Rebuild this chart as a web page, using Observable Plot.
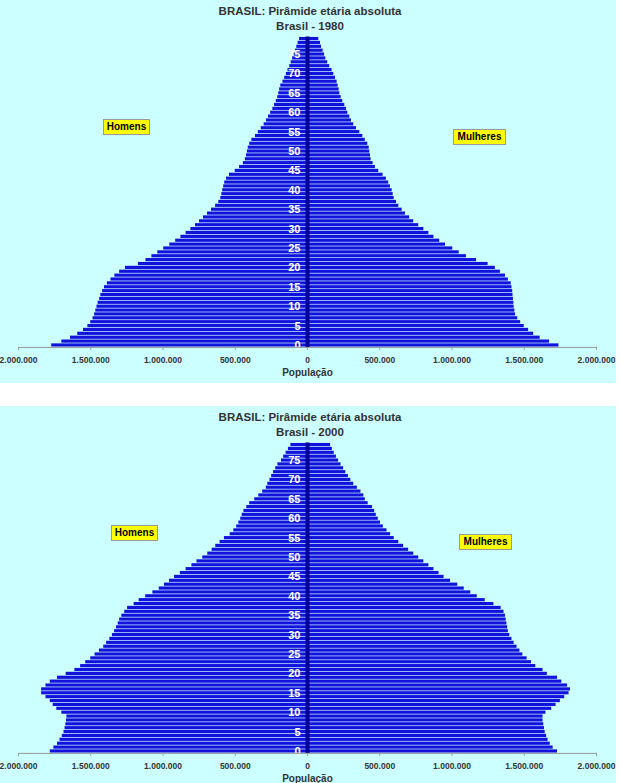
<!DOCTYPE html>
<html><head><meta charset="utf-8">
<script src="https://cdn.jsdelivr.net/npm/d3@7"></script>
<script src="https://cdn.jsdelivr.net/npm/@observablehq/plot@0.6"></script>
<style>
body{margin:0;background:#fff;font-family:"Liberation Sans",Arial,sans-serif;}
.panel{position:relative;width:616px;height:383px;background:#ccffff;overflow:hidden}
.panel + .panel{margin-top:23px}
.panel svg{position:absolute;left:0;top:0}
.t{position:absolute;left:0;width:620px;text-align:center;font-weight:bold;color:#333;font-size:11.5px;line-height:14px}
.t1{top:4px}.t2{top:19px}
.xl{position:absolute;left:0;width:615px;text-align:center;font-weight:bold;color:#333;font-size:10px;top:367px}
.box{position:absolute;background:#ffff00;border:1px solid #999;font-weight:bold;font-size:10px;line-height:14px;text-align:center;color:#000;box-sizing:border-box}
</style></head>
<body>
<div id="p1" class="panel"></div>
<div id="p2" class="panel"></div>
<script>
const ages = [0,1,2,3,4,5,6,7,8,9,10,11,12,13,14,15,16,17,18,19,20,21,22,23,24,25,26,27,28,29,30,31,32,33,34,35,36,37,38,39,40,41,42,43,44,45,46,47,48,49,50,51,52,53,54,55,56,57,58,59,60,61,62,63,64,65,66,67,68,69,70,71,72,73,74,75,76,77,78,79];
const ageTicks = [0,5,10,15,20,25,30,35,40,45,50,55,60,65,70,75];
const xTicks = [-2000000,-1500000,-1000000,-500000,0,500000,1000000,1500000,2000000];

const men1980 = [1770000,1700000,1640000,1590000,1550000,1520000,1500000,1484000,1473000,1465000,1457000,1449000,1438000,1430000,1418000,1405000,1385000,1360000,1333000,1300000,1260000,1170000,1118000,1077000,1036000,995000,953000,912000,876000,840000,807000,775000,747000,720000,692000,664000,636000,614000,600000,593000,587000,580000,573000,560000,540000,500000,470000,444000,430000,422000,416000,410000,400000,385000,360000,340000,320000,300000,284000,270000,255000,240000,228000,216000,206000,199000,193000,185000,170000,158000,146000,135000,123000,113000,103000,92000,83000,74000,65000,55000];
const women1980 = [1740000,1675000,1610000,1565000,1530000,1500000,1475000,1455000,1440000,1435000,1430000,1428000,1425000,1422000,1420000,1415000,1410000,1390000,1370000,1335000,1300000,1250000,1170000,1100000,1050000,1005000,955000,915000,875000,840000,805000,770000,735000,707000,678000,655000,632000,616000,600000,593000,586000,574000,562000,546000,523000,493000,470000,454000,440000,436000,431000,427000,417000,400000,383000,362000,339000,320000,304000,293000,279000,270000,258000,244000,233000,224000,219000,212000,205000,194000,182000,170000,154000,140000,127000,118000,108000,97000,90000,78000];
const men2000 = [1780000,1755000,1730000,1713000,1697000,1685000,1678000,1672000,1668000,1665000,1700000,1735000,1760000,1780000,1810000,1840000,1840000,1810000,1780000,1730000,1670000,1610000,1570000,1535000,1500000,1470000,1440000,1410000,1390000,1368000,1350000,1335000,1322000,1310000,1300000,1285000,1265000,1245000,1200000,1165000,1120000,1070000,1026000,990000,955000,920000,880000,840000,800000,765000,725000,690000,660000,635000,605000,575000,535000,510000,490000,475000,462000,452000,440000,420000,400000,365000,337000,310000,285000,275000,260000,248000,235000,220000,205000,180000,165000,148000,132000,115000];
const women2000 = [1730000,1700000,1680000,1665000,1655000,1645000,1640000,1635000,1630000,1630000,1650000,1690000,1720000,1750000,1780000,1810000,1820000,1800000,1760000,1730000,1660000,1630000,1580000,1550000,1520000,1490000,1470000,1450000,1430000,1415000,1400000,1390000,1385000,1380000,1375000,1370000,1360000,1340000,1290000,1230000,1175000,1130000,1085000,1040000,990000,945000,910000,875000,840000,805000,770000,735000,700000,665000,632000,600000,575000,550000,525000,505000,490000,476000,465000,450000,420000,400000,390000,370000,345000,320000,300000,283000,265000,250000,232000,215000,200000,185000,172000,160000];

const panels = [
  {id: "p1", year: "1980", men: men1980, women: women1980, homens: [103,119], mulheres: [453,129]},
  {id: "p2", year: "2000", men: men2000, women: women2000, homens: [111,119], mulheres: [459,128]}
];

const loc = d3.formatLocale({decimal: ",", thousands: ".", grouping: [3], currency: ["", ""]});
const fmt = loc.format(",d");
const BLUE = "#1212dc";

for (const p of panels) {
  const rows = ages.map((a, i) => ({age: a, men: p.men[i], women: p.women[i]}));
  const chart = Plot.plot({
    width: 616, height: 383,
    marginLeft: 18, marginRight: 20, marginTop: 36.6, marginBottom: 36.1,
    style: {background: "transparent", fontFamily: "'Liberation Sans', Arial, sans-serif", overflow: "visible"},
    x: {domain: [-2000000, 2000000], label: null},
    y: {type: "band", domain: ages.slice().reverse(), padding: 0, axis: null},
    marks: [
      Plot.barX(rows, {y: "age", x1: 0, x2: d => -d.men, fill: BLUE, insetTop: 0.35, insetBottom: 0.35}),
      Plot.barX(rows, {y: "age", x1: 0, x2: "women", fill: BLUE, insetTop: 0.35, insetBottom: 0.35}),
      Plot.ruleX([0], {stroke: "#000099", strokeWidth: 4}),
      Plot.text(ageTicks, {x: 0, y: d => d, text: d => String(d), dx: -7, textAnchor: "end", fill: "white", fontWeight: "bold", fontSize: 11}),
      Plot.frame({anchor: "bottom", stroke: "#999"}),
      Plot.axisX({ticks: xTicks, tickFormat: d => fmt(Math.abs(d)), tickSize: 3, tickPadding: 7, fontSize: 8.5, fontWeight: "bold", fill: "#333", stroke: "#999", label: null})
    ]
  });
  const el = document.getElementById(p.id);
  el.appendChild(chart);
  el.insertAdjacentHTML("beforeend",
    `<div class="t t1">BRASIL: Pirâmide etária absoluta</div>` +
    `<div class="t t2">Brasil - ${p.year}</div>` +
    `<div class="xl">População</div>` +
    `<div class="box" style="left:${p.homens[0]}px;top:${p.homens[1]}px;width:47px;height:16px">Homens</div>` +
    `<div class="box" style="left:${p.mulheres[0]}px;top:${p.mulheres[1]}px;width:53px;height:16px">Mulheres</div>`);
}
</script>
</body></html>
